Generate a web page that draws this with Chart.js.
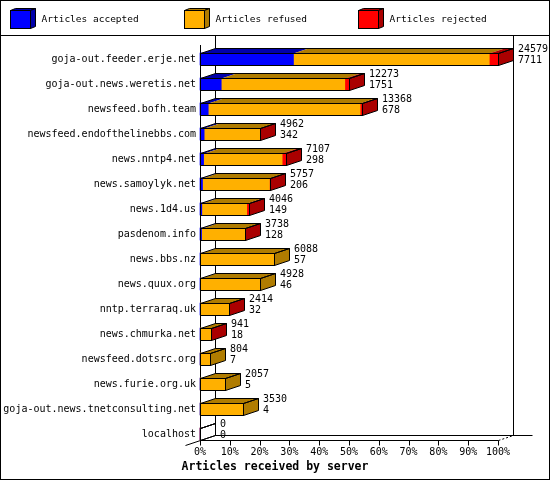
<!DOCTYPE html>
<html>
<head>
<meta charset="utf-8">
<script src="https://cdn.jsdelivr.net/npm/chart.js@4/dist/chart.umd.min.js"></script>
<style>
  html, body { margin: 0; padding: 0; background: #fff; }
</style>
</head>
<body>
<canvas id="chart" width="550" height="480"></canvas>
<script>
const servers = [
  'goja-out.feeder.erje.net', 'goja-out.news.weretis.net', 'newsfeed.bofh.team',
  'newsfeed.endofthelinebbs.com', 'news.nntp4.net', 'news.samoylyk.net', 'news.1d4.us',
  'pasdenom.info', 'news.bbs.nz', 'news.quux.org', 'nntp.terraraq.uk', 'news.chmurka.net',
  'newsfeed.dotsrc.org', 'news.furie.org.uk', 'goja-out.news.tnetconsulting.net', 'localhost'
];
const accepted = [7711, 1751, 678, 342, 298, 206, 149, 128, 57, 46, 32, 18, 7, 5, 4, 0];
const refused  = [16148, 10192, 12530, 4580, 6479, 5521, 3707, 3590, 6031, 4882, 2367, 913, 797, 2052, 3526, 0];
const rejected = [720, 330, 160, 40, 330, 30, 190, 20, 0, 0, 15, 10, 0, 0, 0, 0];
const xTicks = [0, 10, 20, 30, 40, 50, 60, 70, 80, 90, 100];
const axisTitle = 'Articles received by server';

const totals = servers.map((s, i) => accepted[i] + refused[i] + rejected[i]);
const maxTotal = Math.max(...totals);
const pct = arr => arr.map(v => v / maxTotal * 100);

const mono = 'DejaVu Sans Mono';
const depthX = 15, depthY = 5;   // 3d depth of bars
const barH = 12;

// front colours and the darker shade for top / side faces
const fronts = ['#0000ff', '#ffb000', '#ff0000'];
const shades = ['#0000aa', '#b07c00', '#aa0000'];

function poly(ctx, pts, fill) {
  ctx.beginPath();
  ctx.moveTo(pts[0][0], pts[0][1]);
  for (let k = 1; k < pts.length; k++) ctx.lineTo(pts[k][0], pts[k][1]);
  ctx.closePath();
  if (fill) { ctx.fillStyle = fill; ctx.fill(); }
  ctx.stroke();
}

function line(ctx, x1, y1, x2, y2) {
  ctx.beginPath();
  ctx.moveTo(x1, y1);
  ctx.lineTo(x2, y2);
  ctx.stroke();
}

const gdLook = {
  id: 'gdLook',
  beforeDraw(chart) {
    const ctx = chart.ctx;
    ctx.save();
    ctx.fillStyle = '#fff';
    ctx.fillRect(0, 0, chart.width, chart.height);
    ctx.strokeStyle = '#000';
    ctx.lineWidth = 1;
    ctx.strokeRect(0.5, 0.5, chart.width - 1, chart.height - 1);
    line(ctx, 0, 35.5, chart.width, 35.5);

    // legend with little 3d boxes
    chart.data.datasets.forEach((ds, i) => {
      const bx = 10.5 + i * 174, by = 10.5;
      ctx.fillStyle = ds.backgroundColor;
      ctx.fillRect(bx, by, 20, 18);
      ctx.strokeRect(bx, by, 20, 18);
      poly(ctx, [[bx, by], [bx + 20, by], [bx + 25, by - 2], [bx + 5, by - 2]], shades[i]);
      poly(ctx, [[bx + 20, by], [bx + 25, by - 2], [bx + 25, by + 16], [bx + 20, by + 18]], shades[i]);
      ctx.fillStyle = '#000';
      ctx.font = '9.5px "' + mono + '"';
      ctx.textBaseline = 'middle';
      ctx.textAlign = 'left';
      ctx.fillText(ds.label, bx + 31, 20);
    });

    // axis title, centred on the whole picture
    ctx.font = 'bold 11.5px "' + mono + '"';
    ctx.textAlign = 'center';
    ctx.fillText(axisTitle, chart.width / 2, 467);
    ctx.restore();
  },
  beforeDatasetsDraw(chart) {
    const ctx = chart.ctx;
    const a = chart.chartArea;
    const xs = chart.scales.x;
    const L = Math.round(a.left) + 0.5, R = Math.round(a.right) + 0.5;
    const Bf = Math.round(a.bottom) + barH / 2 + 0.5;
    ctx.save();
    ctx.strokeStyle = '#000';
    ctx.lineWidth = 1;
    // back plane
    line(ctx, L + depthX, 36, L + depthX, Bf - depthY);
    line(ctx, R + depthX, 36, R + depthX, Bf - depthY);
    line(ctx, L + depthX, Bf - depthY, R + depthX + 19, Bf - depthY);
    // front axes
    line(ctx, L, Math.round(a.top) - 14, L, Bf);
    line(ctx, L, Bf, R, Bf);
    line(ctx, L - depthX, Bf + depthY, L + depthX, Bf - depthY);
    ctx.setLineDash([2, 2]);
    line(ctx, R, Bf, R + depthX, Bf - depthY);
    ctx.setLineDash([]);
    xTicks.forEach(v => {
      const px = Math.round(xs.getPixelForValue(v)) + 0.5;
      line(ctx, px, Bf, px, Bf + 5);
    });
    ctx.restore();
  },
  afterDatasetsDraw(chart) {
    const ctx = chart.ctx;
    const metas = chart.data.datasets.map((d, i) => chart.getDatasetMeta(i));
    ctx.save();
    ctx.strokeStyle = '#000';
    ctx.lineWidth = 1;
    servers.forEach((name, i) => {
      const segs = metas.map(m => m.data[i].getProps(['x', 'base', 'y'], true));
      const yc = segs[0].y;
      const top = Math.round(yc - barH / 2) + 0.5, bot = top + barH;
      const x0 = Math.round(segs[0].base) + 0.5;
      let xEnd = x0, lastIdx = -1;
      // top faces per segment
      segs.forEach((s, k) => {
        const sx0 = Math.round(s.base) + 0.5, sx1 = Math.round(s.x) + 0.5;
        if (Math.abs(s.x - s.base) < 0.01) return;
        lastIdx = k;
        xEnd = sx1;
        ctx.beginPath();
        ctx.moveTo(sx0, top);
        ctx.lineTo(sx1, top);
        ctx.lineTo(sx1 + depthX, top - depthY);
        ctx.lineTo(sx0 + depthX, top - depthY);
        ctx.closePath();
        ctx.fillStyle = shades[k];
        ctx.fill();
      });
      // side face
      const side = [[xEnd, top], [xEnd + depthX, top - depthY], [xEnd + depthX, bot - depthY], [xEnd, bot]];
      ctx.beginPath();
      side.forEach((p, k) => k ? ctx.lineTo(p[0], p[1]) : ctx.moveTo(p[0], p[1]));
      ctx.closePath();
      if (lastIdx >= 0) { ctx.fillStyle = shades[lastIdx]; ctx.fill(); }
      ctx.stroke();
      // outlines
      ctx.strokeRect(x0, top, xEnd - x0, barH);
      poly(ctx, [[x0, top], [x0 + depthX, top - depthY], [xEnd + depthX, top - depthY], [xEnd, top]]);
      // value labels: total and accepted
      ctx.fillStyle = '#000';
      ctx.font = '10px "' + mono + '"';
      ctx.textAlign = 'left';
      ctx.textBaseline = 'middle';
      ctx.fillText(String(totals[i]), xEnd + 19.5, yc - 9.3);
      ctx.fillText(String(accepted[i]), xEnd + 19.5, yc + 1.7);
    });
    ctx.restore();
  }
};

new Chart(document.getElementById('chart'), {
  type: 'bar',
  data: {
    labels: servers,
    datasets: [
      { label: 'Articles accepted', data: pct(accepted), backgroundColor: fronts[0], clip: false },
      { label: 'Articles refused', data: pct(refused), backgroundColor: fronts[1], clip: false },
      { label: 'Articles rejected', data: pct(rejected), backgroundColor: fronts[2], clip: false }
    ]
  },
  options: {
    responsive: false,
    animation: false,
    devicePixelRatio: 1,
    indexAxis: 'y',
    borderWidth: 0,
    barThickness: barH,
    layout: { padding: { top: 59, right: 52, bottom: 22, left: 0 } },
    plugins: {
      legend: { display: false },
      tooltip: { enabled: false },
      title: { display: false }
    },
    scales: {
      x: {
        stacked: true,
        min: 0,
        max: 100,
        grid: { display: false, drawTicks: false },
        border: { display: false },
        afterBuildTicks: s => { s.ticks = xTicks.map(v => ({ value: v })); },
        ticks: {
          color: '#000',
          font: { family: mono, size: 10 },
          padding: 12,
          maxRotation: 0,
          autoSkip: false,
          callback: v => v + '%'
        },
        afterFit: s => { s.height = 24; }
      },
      y: {
        stacked: true,
        offset: false,
        grid: { display: false, drawTicks: false },
        border: { display: false },
        ticks: {
          color: '#000',
          font: { family: mono, size: 10 },
          padding: 4,
          autoSkip: false
        },
        afterFit: s => { s.width = 200; }
      }
    }
  },
  plugins: [gdLook]
});
</script>
</body>
</html>
